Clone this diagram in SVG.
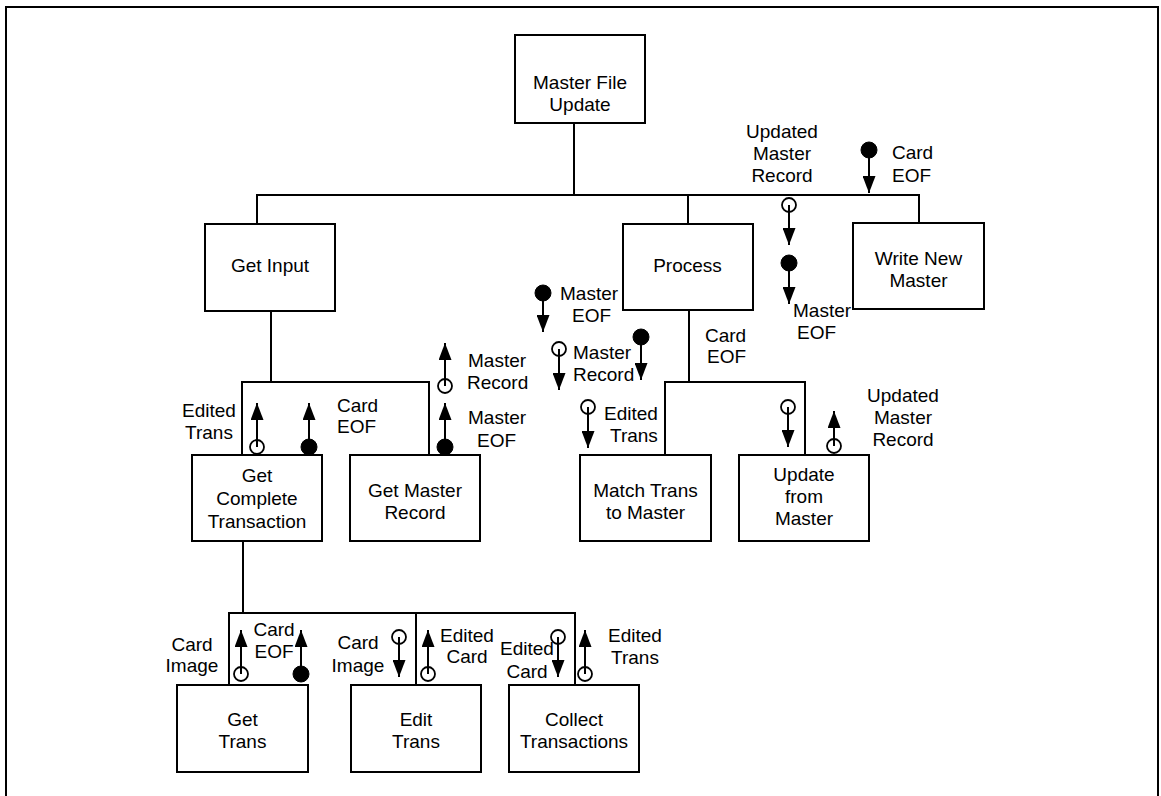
<svg xmlns="http://www.w3.org/2000/svg" width="1161" height="796" viewBox="0 0 1161 796">
  <style>
    .box { fill: #fff; stroke: #000; stroke-width: 2; }
    .wire { fill: none; stroke: #000; stroke-width: 2; }
    .flow { fill: none; stroke: #000; stroke-width: 2; marker-end: url(#head); }
    .data { fill: #fff; fill-opacity: 0; stroke: #000; stroke-width: 1.8; }
    .ctrl { fill: #000; stroke: #000; stroke-width: 1; }
    text { font-family: "Liberation Sans", Arial, sans-serif; font-size: 19px; fill: #000; }
    .c { text-anchor: middle; }
    .s { text-anchor: start; }
  </style>
  <defs>
    <marker id="head" markerUnits="userSpaceOnUse" markerWidth="17" markerHeight="13" refX="17" refY="6.5" orient="auto">
      <path d="M0,0 L17,6.5 L0,13 Z" fill="#000"/>
    </marker>
  </defs>

  <rect width="1161" height="796" fill="#fff"/>
  <!-- page frame -->
  <path class="wire" d="M6,796 V7 H1158 V796"/>

  <!-- structure chart links -->
  <g id="connectors">
    <path class="wire" d="M574,123 V195 M257,224 V195 H919 V223 M688,195 V224"/>
    <path class="wire" d="M271,311 V382 M242,455 V382 H429 V455"/>
    <path class="wire" d="M689,310 V382 M665,455 V382 H805 V455"/>
    <path class="wire" d="M243,541 V613 M229,685 V613 H575 V685 M416,613 V685"/>
  </g>

  <!-- modules -->
  <g id="master-file-update">
    <rect class="box" x="515" y="35" width="130" height="88"/>
    <text class="c" x="580" y="89">Master File</text>
    <text class="c" x="580" y="111">Update</text>
  </g>
  <g id="get-input">
    <rect class="box" x="205" y="224" width="130" height="87"/>
    <text class="c" x="270" y="272">Get Input</text>
  </g>
  <g id="process">
    <rect class="box" x="623" y="224" width="130" height="86"/>
    <text class="c" x="687.5" y="272">Process</text>
  </g>
  <g id="write-new-master">
    <rect class="box" x="853" y="223" width="131" height="86"/>
    <text class="c" x="918.5" y="265">Write New</text>
    <text class="c" x="918.5" y="287">Master</text>
  </g>
  <g id="get-complete-transaction">
    <rect class="box" x="192" y="455" width="130" height="86"/>
    <text class="c" x="257" y="482">Get</text>
    <text class="c" x="257" y="505">Complete</text>
    <text class="c" x="257" y="528">Transaction</text>
  </g>
  <g id="get-master-record">
    <rect class="box" x="350" y="455" width="130" height="86"/>
    <text class="c" x="415" y="497">Get Master</text>
    <text class="c" x="415" y="519">Record</text>
  </g>
  <g id="match-trans-to-master">
    <rect class="box" x="580" y="455" width="131" height="86"/>
    <text class="c" x="645.5" y="497">Match Trans</text>
    <text class="c" x="645.5" y="519">to Master</text>
  </g>
  <g id="update-from-master">
    <rect class="box" x="739" y="455" width="130" height="86"/>
    <text class="c" x="804" y="481">Update</text>
    <text class="c" x="804" y="503">from</text>
    <text class="c" x="804" y="525">Master</text>
  </g>
  <g id="get-trans">
    <rect class="box" x="177" y="685" width="131" height="87"/>
    <text class="c" x="242.5" y="726">Get</text>
    <text class="c" x="242.5" y="748">Trans</text>
  </g>
  <g id="edit-trans">
    <rect class="box" x="351" y="685" width="130" height="87"/>
    <text class="c" x="416" y="726">Edit</text>
    <text class="c" x="416" y="748">Trans</text>
  </g>
  <g id="collect-transactions">
    <rect class="box" x="509" y="685" width="130" height="87"/>
    <text class="c" x="574" y="726">Collect</text>
    <text class="c" x="574" y="748">Transactions</text>
  </g>

  <!-- couples: data (open circle) and control flags (filled circle) -->
  <g id="couples">
    <!-- Master File Update level -->
    <line class="flow" x1="869" y1="150" x2="869" y2="193"/>
    <circle class="ctrl" cx="869" cy="150" r="8"/>
    <line class="flow" x1="789" y1="205" x2="789" y2="245"/>
    <circle class="data" cx="789" cy="205" r="7"/>
    <line class="flow" x1="789" y1="263" x2="789" y2="304"/>
    <circle class="ctrl" cx="789" cy="263" r="8"/>
    <line class="flow" x1="543" y1="293" x2="543" y2="332"/>
    <circle class="ctrl" cx="543" cy="293" r="8"/>
    <line class="flow" x1="559" y1="349" x2="559" y2="390"/>
    <circle class="data" cx="559" cy="349" r="7"/>
    <line class="flow" x1="641" y1="337" x2="641" y2="380"/>
    <circle class="ctrl" cx="641" cy="337" r="8"/>

    <!-- Process level -->
    <line class="flow" x1="588" y1="407" x2="588" y2="448"/>
    <circle class="data" cx="588" cy="407" r="7"/>
    <line class="flow" x1="788" y1="407" x2="788" y2="447"/>
    <circle class="data" cx="788" cy="407" r="7"/>
    <line class="flow" x1="834" y1="446" x2="834" y2="411"/>
    <circle class="data" cx="834" cy="446" r="7"/>

    <!-- Get Input level -->
    <line class="flow" x1="257" y1="447" x2="257" y2="403"/>
    <circle class="data" cx="257" cy="447" r="7"/>
    <line class="flow" x1="309" y1="447" x2="309" y2="403"/>
    <circle class="ctrl" cx="309" cy="447" r="8"/>
    <line class="flow" x1="445" y1="386" x2="445" y2="343"/>
    <circle class="data" cx="445" cy="386" r="7"/>
    <line class="flow" x1="445" y1="447" x2="445" y2="403"/>
    <circle class="ctrl" cx="445" cy="447" r="8"/>

    <!-- Get Complete Transaction level -->
    <line class="flow" x1="241" y1="674" x2="241" y2="630"/>
    <circle class="data" cx="241" cy="674" r="7"/>
    <line class="flow" x1="301" y1="674" x2="301" y2="630"/>
    <circle class="ctrl" cx="301" cy="674" r="8"/>
    <line class="flow" x1="399" y1="637" x2="399" y2="677"/>
    <circle class="data" cx="399" cy="637" r="7"/>
    <line class="flow" x1="428" y1="674" x2="428" y2="630"/>
    <circle class="data" cx="428" cy="674" r="7"/>
    <line class="flow" x1="558" y1="637" x2="558" y2="677"/>
    <circle class="data" cx="558" cy="637" r="7"/>
    <line class="flow" x1="585" y1="674" x2="585" y2="630"/>
    <circle class="data" cx="585" cy="674" r="7"/>
  </g>

  <!-- couple labels -->
  <g id="labels">
    <text class="c" x="782" y="138">Updated</text>
    <text class="c" x="782" y="160">Master</text>
    <text class="c" x="782" y="182">Record</text>
    <text class="s" x="892" y="159">Card</text>
    <text class="s" x="892" y="182">EOF</text>
    <text class="s" x="793" y="317">Master</text>
    <text class="s" x="797" y="339">EOF</text>
    <text class="s" x="560" y="300">Master</text>
    <text class="s" x="572" y="322">EOF</text>
    <text class="s" x="573" y="359">Master</text>
    <text class="s" x="573" y="381">Record</text>
    <text class="s" x="705" y="342">Card</text>
    <text class="s" x="707" y="363">EOF</text>
    <text class="s" x="604" y="420">Edited</text>
    <text class="s" x="610" y="442">Trans</text>
    <text class="c" x="903" y="402">Updated</text>
    <text class="c" x="903" y="424">Master</text>
    <text class="c" x="903" y="446">Record</text>

    <text class="c" x="209" y="417">Edited</text>
    <text class="c" x="209" y="439">Trans</text>
    <text class="s" x="337" y="412">Card</text>
    <text class="s" x="337" y="433">EOF</text>
    <text class="s" x="468" y="367">Master</text>
    <text class="s" x="467" y="389">Record</text>
    <text class="s" x="468" y="424">Master</text>
    <text class="s" x="477" y="447">EOF</text>

    <text class="c" x="192" y="651">Card</text>
    <text class="c" x="192" y="672">Image</text>
    <text class="c" x="274" y="636">Card</text>
    <text class="c" x="274" y="658">EOF</text>
    <text class="c" x="358" y="649">Card</text>
    <text class="c" x="358" y="672">Image</text>
    <text class="s" x="440" y="642">Edited</text>
    <text class="c" x="467" y="663">Card</text>
    <text class="c" x="527" y="655">Edited</text>
    <text class="c" x="527" y="678">Card</text>
    <text class="c" x="635" y="642">Edited</text>
    <text class="c" x="635" y="664">Trans</text>
  </g>
</svg>
